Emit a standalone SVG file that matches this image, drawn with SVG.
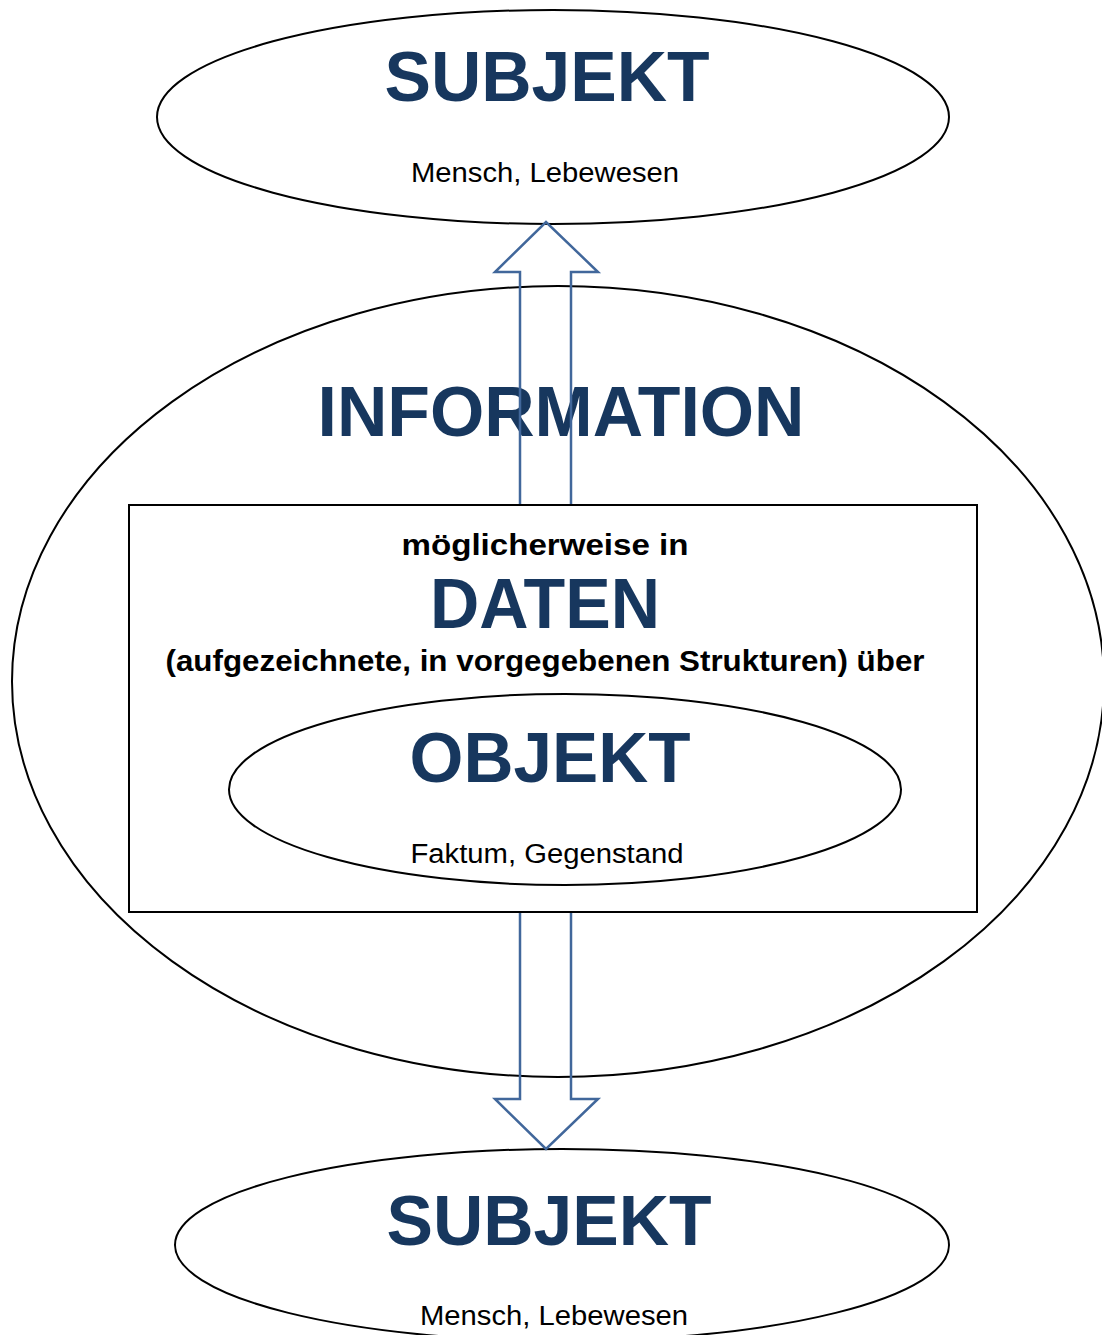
<svg xmlns="http://www.w3.org/2000/svg" width="1102" height="1335" viewBox="0 0 1102 1335">
<style>
.shape{fill:none;stroke:#000;stroke-width:2}
.arrow{fill:none;stroke:#41679b;stroke-width:2.5;stroke-linejoin:miter}
.title{font-family:"Liberation Sans",Arial,sans-serif;font-weight:bold;font-size:70px;fill:#17375e;text-anchor:middle}
.sub{font-family:"Liberation Sans",Arial,sans-serif;font-size:27px;fill:#000;text-anchor:middle}
.bold{font-family:"Liberation Sans",Arial,sans-serif;font-weight:bold;font-size:29px;fill:#000;text-anchor:middle}
</style>
<rect width="1102" height="1335" fill="#fff"/>
<g id="information">
<ellipse class="shape" cx="558" cy="681.5" rx="546" ry="395.5"/>
<text class="title" x="561" y="436" textLength="487" lengthAdjust="spacingAndGlyphs">INFORMATION</text>
</g>
<g id="subjekt-top">
<ellipse class="shape" cx="553" cy="117" rx="396" ry="107"/>
<text class="title" x="547" y="101" textLength="325" lengthAdjust="spacingAndGlyphs">SUBJEKT</text>
<text class="sub" x="545" y="182" textLength="268" lengthAdjust="spacingAndGlyphs">Mensch, Lebewesen</text>
</g>
<g id="daten">
<rect class="shape" x="129" y="505" width="848" height="407"/>
<text class="bold" x="545" y="555" textLength="287" lengthAdjust="spacingAndGlyphs">möglicherweise in</text>
<text class="title" x="545" y="628" textLength="230" lengthAdjust="spacingAndGlyphs">DATEN</text>
<text class="bold" x="545" y="671" textLength="759" lengthAdjust="spacingAndGlyphs">(aufgezeichnete, in vorgegebenen Strukturen) über</text>
</g>
<g id="objekt">
<ellipse class="shape" cx="565" cy="789.5" rx="336" ry="95.5"/>
<text class="title" x="550" y="782" textLength="281" lengthAdjust="spacingAndGlyphs">OBJEKT</text>
<text class="sub" x="547" y="863" textLength="273" lengthAdjust="spacingAndGlyphs">Faktum, Gegenstand</text>
</g>
<g id="subjekt-bottom">
<ellipse class="shape" cx="562" cy="1245" rx="387" ry="96"/>
<text class="title" x="549" y="1245" textLength="325" lengthAdjust="spacingAndGlyphs">SUBJEKT</text>
<text class="sub" x="554" y="1325" textLength="268" lengthAdjust="spacingAndGlyphs">Mensch, Lebewesen</text>
</g>
<g id="connectors">
<path class="arrow" d="M520,504 V272 H495 L546,222 L598,272 H571 V504"/>
<path class="arrow" d="M520,913 V1099 H495 L546,1149 L598,1099 H571 V913"/>
</g>
</svg>
